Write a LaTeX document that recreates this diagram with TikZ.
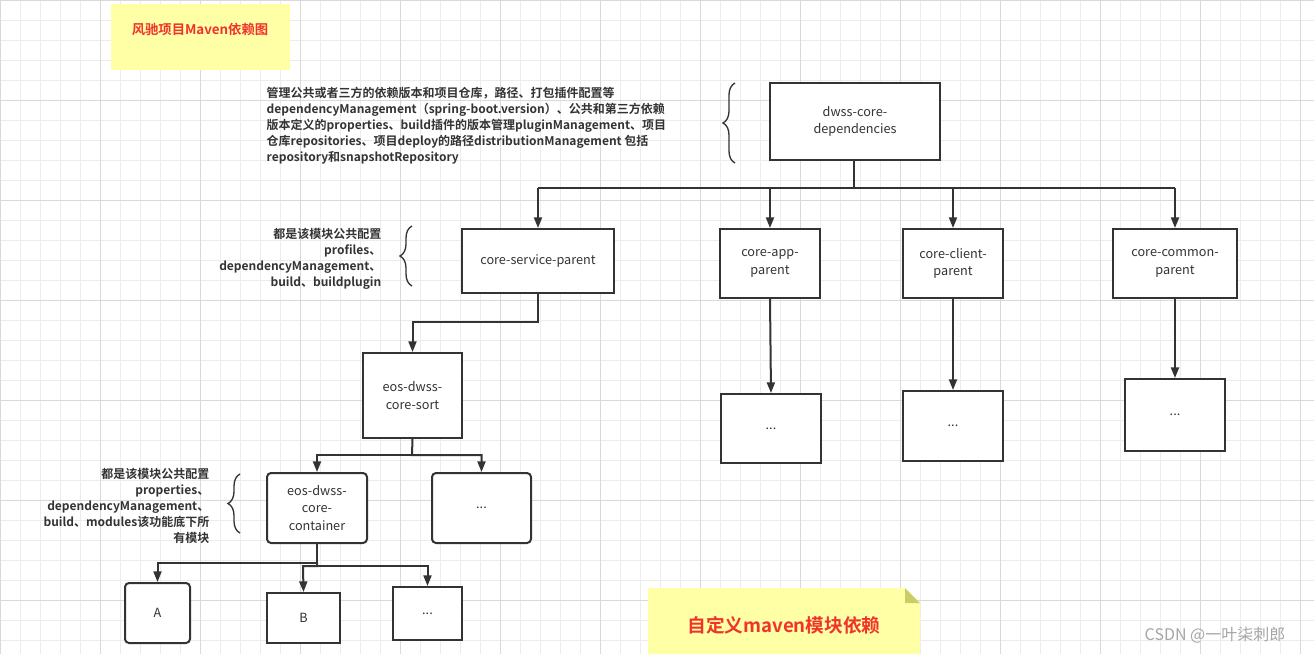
\documentclass[tikz,border=0pt]{standalone}
\usepackage{fontspec}
\setmainfont{Noto Sans CJK SC}[BoldFont={Noto Sans CJK SC Bold}]
\usetikzlibrary{arrows.meta,decorations.pathreplacing}
\definecolor{ln}{HTML}{333333}
\definecolor{notey}{HTML}{FFFFA6}
\definecolor{redt}{HTML}{F0342C}
\begin{document}
\begin{tikzpicture}[x=0.75pt,y=-0.75pt,
  box/.style={draw=ln,line width=1.5pt,fill=white,inner sep=0pt,align=center,font=\fontsize{9.5}{13}\selectfont,text=ln},
  conn/.style={draw=ln,line width=1.5pt,-{Triangle[length=8pt,width=6pt]}},
  plain/.style={draw=ln,line width=1.5pt},
  brc/.style={draw=ln,line width=1pt,decorate,decoration={brace,amplitude=9pt}},
  notetext/.style={font=\fontsize{9}{12}\selectfont\bfseries,text=ln}]
\useasboundingbox (0,0) rectangle (1314,654);
\fill[white] (0,0) rectangle (1314,654);
\foreach \i in {0,20,...,1300} \draw[gray!15,line width=0.5pt] (\i,0) -- (\i,654);
\foreach \i in {0,20,...,640} \draw[gray!15,line width=0.5pt] (0,\i) -- (1314,\i);
\foreach \i in {0,100,...,1300} \draw[gray!30,line width=0.6pt] (\i,0) -- (\i,654);
\foreach \i in {0,100,...,600} \draw[gray!30,line width=0.6pt] (0,\i) -- (1314,\i);
% title notes
\fill[notey] (111,4) rectangle (290,70);
\node[font=\fontsize{10}{12}\selectfont\bfseries,text=redt] (t1) at (200,29) {风驰项目Maven依赖图};
\fill[notey] (648,588) -- (905,588) -- (920,603) -- (920,654) -- (648,654) -- cycle;
\fill[notey!60!olive] (905,588) -- (920,603) -- (905,603) -- cycle;
\node[font=\fontsize{14}{16}\selectfont\bfseries,text=redt] (t2) at (784,625) {自定义maven模块依赖};
% boxes
\node[box,minimum width=127.5pt,minimum height=57.75pt] (dep) at (855,121.5) {dwss-core-\\dependencies};
\node[box,minimum width=114pt,minimum height=48pt] (svc) at (538,261) {core-service-parent};
\node[box,minimum width=75pt,minimum height=51.75pt] (app) at (770,263.5) {core-app-\\parent};
\node[box,minimum width=75pt,minimum height=51.75pt] (cli) at (953,263.5) {core-client-\\parent};
\node[box,minimum width=93pt,minimum height=51.75pt] (com) at (1175,263.5) {core-common-\\parent};
\node[box,minimum width=75pt,minimum height=51.75pt] (appx) at (771,428.5) {...};
\node[box,minimum width=75pt,minimum height=52.5pt] (clix) at (953,426) {...};
\node[box,minimum width=75pt,minimum height=54pt] (comx) at (1175,415) {...};
\node[box,minimum width=74.25pt,minimum height=63.75pt] (sort) at (412.5,395.5) {eos-dwss-\\core-sort};
\node[box,rounded corners=3pt,minimum width=75pt,minimum height=52.5pt] (cont) at (317,508) {eos-dwss-\\core-\\container};
\node[box,rounded corners=3pt,minimum width=74.25pt,minimum height=52.5pt] (sx) at (481.5,508) {...};
\node[box,rounded corners=3pt,minimum width=48.75pt,minimum height=45pt] (A) at (157.5,613) {A};
\node[box,minimum width=54.75pt,minimum height=37.5pt] (B) at (303.5,618) {B};
\node[box,minimum width=51.75pt,minimum height=39.75pt] (bx) at (427.5,613.5) {...};
% connectors
\coordinate (j1) at (854,188);
\draw[plain] (dep.south -| j1) -- (j1);
\draw[plain] (538,188) -- (1175,188);
\draw[conn] (538,188) -- (svc.north);
\draw[conn] (app.north |- j1) -- (app.north);
\draw[conn] (cli.north |- j1) -- (cli.north);
\draw[conn] (com.north |- j1) -- (com.north);
\draw[conn] (svc.south) -- (538,322) -| (sort.north);
\draw[conn] (sort.south) -- (412,455) -| (sx.north);
\draw[conn] (412,455) -| (cont.north);
\draw[conn] (cont.south) -- (317,563) -| (A.north);
\draw[conn] (317,563) |- (303,566) -- (B.north);
\draw[conn] (317,566) -| (bx.north);
\draw[conn] (app.south) -- (appx.north);
\draw[conn] (cli.south) -- (clix.north);
\draw[conn] (com.south) -- (comx.north);
% braces and notes
\draw[brc] (735,163) -- (735,83);
\draw[brc] (412,286) -- (412,226);
\draw[brc] (240,533) -- (240,474);
\node[notetext,anchor=north west,align=left] (n1) at (262,82) {管理公共或者三方的依赖版本和项目仓库，路径、打包插件配置等\\dependencyManagement（spring-boot.version）、公共和第三方依赖\\版本定义的properties、build插件的版本管理pluginManagement、项目\\仓库repositories、项目deploy的路径distributionManagement 包括\\repository和snapshotRepository};
\node[notetext,anchor=north east,align=right] (n2) at (386,223) {都是该模块公共配置\\profiles、\\dependencyManagement、\\build、buildplugin};
\node[notetext,anchor=north east,align=right] (n3) at (214,463) {都是该模块公共配置\\properties、\\dependencyManagement、\\build、modules该功能底下所\\有模块};
\node[font=\fontsize{12}{14}\selectfont,text=gray!70] (w) at (1215,635) {CSDN @一叶柒刺郎};
\end{tikzpicture}
\end{document}
